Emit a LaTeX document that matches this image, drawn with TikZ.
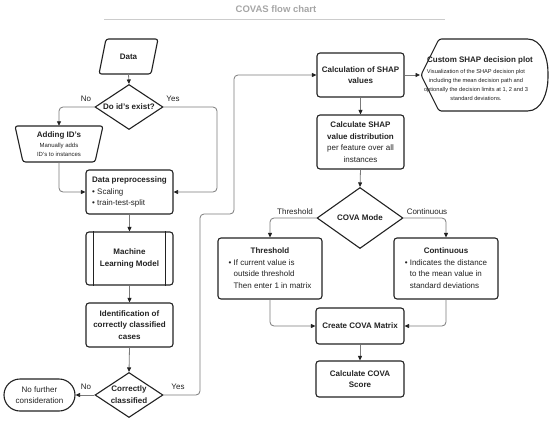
\documentclass[tikz,border=0pt]{standalone}
\usepackage{fontspec}
\setmainfont{Liberation Sans}
\usetikzlibrary{arrows.meta,shapes.geometric}
\definecolor{ink}{HTML}{222222}
\definecolor{wire}{HTML}{7A7A7A}
\definecolor{ttl}{HTML}{A6A6A6}
\definecolor{rule}{HTML}{CCCCCC}
\newcommand{\ztext}[1]{\makebox[0pt]{#1}}
\begin{document}
\begin{tikzpicture}[x=1pt,y=-1pt,
  font=\fontsize{8}{11.5}\selectfont, text=ink,
  box/.style={draw=ink, line width=1.1pt, rounded corners=3pt, inner sep=0pt, align=center},
  diam/.style={diamond, draw=ink, line width=1.1pt, inner sep=0pt},
  ghost/.style={inner sep=0pt, align=center},
  shapeline/.style={draw=ink, line width=1.1pt, rounded corners=2.5pt},
  link/.style={draw=wire, line width=0.8pt, rounded corners=4pt, -{Triangle[length=4.5pt,width=4pt,color=ink]}},
  lab/.style={font=\fontsize{8}{9}\selectfont, text=ink, inner sep=1pt}
]
\useasboundingbox (0,0) rectangle (550,421);

% title
\node[font=\fontsize{9.5}{11}\selectfont\bfseries, text=ttl] (title) at (276,9) {COVAS flow chart};
\draw[rule, line width=1pt] (104,19) -- (445,19);

% Data (parallelogram)
\draw[shapeline] (106,39) -- (158,39) -- (151,74) -- (99,74) -- cycle;
\node[ghost, minimum width=52pt, minimum height=35pt] (data) at (128.5,56.5) {\textbf{Data}};

% decision: id's exist
\node[diam, minimum width=68pt, minimum height=45pt] (q1) at (129,107) {\ztext{\textbf{Do id's exist?}}};

% Adding ID's (manual operation)
\draw[shapeline] (15,126) -- (103,126) -- (95,162) -- (23,162) -- cycle;
\node[ghost, minimum width=88pt, minimum height=36pt] (add) at (59,144) {};
\node[ghost] (addtxt) at (59,144) {\textbf{Adding ID's}\\[-1.5pt]{\fontsize{6}{8.5}\selectfont Manually adds}\\[-2.5pt]{\fontsize{6}{8.5}\selectfont ID's to instances}};

% Data preprocessing
\node[box, minimum width=87pt, minimum height=44pt] (pre) at (129.5,192) {\begin{tabular}{@{}l@{}}\textbf{Data preprocessing}\\ \textbullet\ Scaling\\ \textbullet\ train-test-split\end{tabular}};

% ML model
\node[box, minimum width=87pt, minimum height=53pt] (ml) at (129.5,258.5) {\textbf{Machine}\\\textbf{Learning Model}};
\draw[ink, line width=1.1pt] ([xshift=8pt]ml.north west) -- ([xshift=8pt]ml.south west);
\draw[ink, line width=1.1pt] ([xshift=-8pt]ml.north east) -- ([xshift=-8pt]ml.south east);

% Identification
\node[box, minimum width=87pt, minimum height=44pt] (ident) at (129.5,325) {\textbf{Identification of}\\\textbf{correctly classified}\\\textbf{cases}};

% decision: correctly classified
\node[diam, minimum width=68pt, minimum height=45pt] (q2) at (129,395) {\ztext{\begin{tabular}{@{}c@{}}\textbf{Correctly}\\\textbf{classified}\end{tabular}}};

% No further consideration
\node[box, rounded corners=16pt, minimum width=71pt, minimum height=32pt] (nf) at (39.5,395) {No further\\consideration};

% Calculation of SHAP values
\node[box, minimum width=87pt, minimum height=44pt] (shap) at (360.5,75) {\textbf{Calculation of SHAP}\\\textbf{values}};

% Custom SHAP decision plot (display)
\draw[shapeline] (421,75) -- (439,39) -- (525,39) .. controls (542,39) and (548,58) .. (548,75) .. controls (548,92) and (542,111) .. (525,111) -- (439,111) -- cycle;
\coordinate (dispw) at (420,75);
\node[ghost] (disptitle) at (480,60) {\textbf{Custom SHAP decision plot}};
\node[ghost, font=\fontsize{5.7}{8.7}\selectfont] (disp) at (476,85) {Visualization of the SHAP decision plot\\ including the mean decision path and\\ optionally the decision limits at 1, 2 and 3\\ standard deviations.};

% SHAP distribution
\node[box, minimum width=87pt, minimum height=54pt] (dist) at (360.5,142) {\textbf{Calculate SHAP}\\\textbf{value distribution}\\per feature over all\\instances};

% COVA mode
\node[diam, minimum width=86pt, minimum height=61pt] (q3) at (360,218) {\ztext{\textbf{COVA Mode}}};

% Threshold / Continuous
\node[box, minimum width=104pt, minimum height=61pt] (thr) at (270,268.5) {\begin{tabular}{@{}l@{}}\multicolumn{1}{@{}c@{}}{\textbf{Threshold}}\\ \textbullet\ If current value is\\ \phantom{\textbullet\ }outside threshold\\ \phantom{\textbullet\ }Then enter 1 in matrix\end{tabular}};
\node[box, minimum width=104pt, minimum height=61pt] (cont) at (446,268.5) {\begin{tabular}{@{}l@{}}\multicolumn{1}{@{}c@{}}{\textbf{Continuous}}\\ \textbullet\ Indicates the distance\\ \phantom{\textbullet\ }to the mean value in\\ \phantom{\textbullet\ }standard deviations\end{tabular}};

% Matrix and score
\node[box, minimum width=88pt, minimum height=36pt] (mat) at (360,326) {\textbf{Create COVA Matrix}};
\node[box, minimum width=88pt, minimum height=36pt] (score) at (360,379) {\textbf{Calculate COVA}\\\textbf{Score}};

% connectors
\draw[link] (data.south) -- (q1.north);
\draw[link] (q1.west) -| (add.north);
\draw[link] (q1.east) -| (217,192) -- (pre.east);
\draw[link] (add.south) |- (pre.west);
\draw[link] (pre.south) -- (ml.north);
\draw[link] (ml.south) -- (ident.north);
\draw[link] (ident.south) -- (q2.north);
\draw[link] (q2.west) -- (nf.east);
\draw[link] (q2.east) -| (200,214) -| (234,75) -- (shap.west);
\draw[link] (shap.east) -- (dispw);
\draw[link] (shap.south) -- (dist.north);
\draw[link] (dist.south) -- (q3.north);
\draw[link] (q3.west) -| (thr.north);
\draw[link] (q3.east) -| (cont.north);
\draw[link] (thr.south) |- (mat.west);
\draw[link] (cont.south) |- (mat.east);
\draw[link] (mat.south) -- (score.north);

% labels
\node[lab] (l1) at (86,99) {No};
\node[lab] (l2) at (173,99) {Yes};
\node[lab] (l3) at (86,387) {No};
\node[lab] (l4) at (178,387) {Yes};
\node[lab] (l5) at (295,212) {Threshold};
\node[lab] (l6) at (427,212) {Continuous};
\end{tikzpicture}
\end{document}
